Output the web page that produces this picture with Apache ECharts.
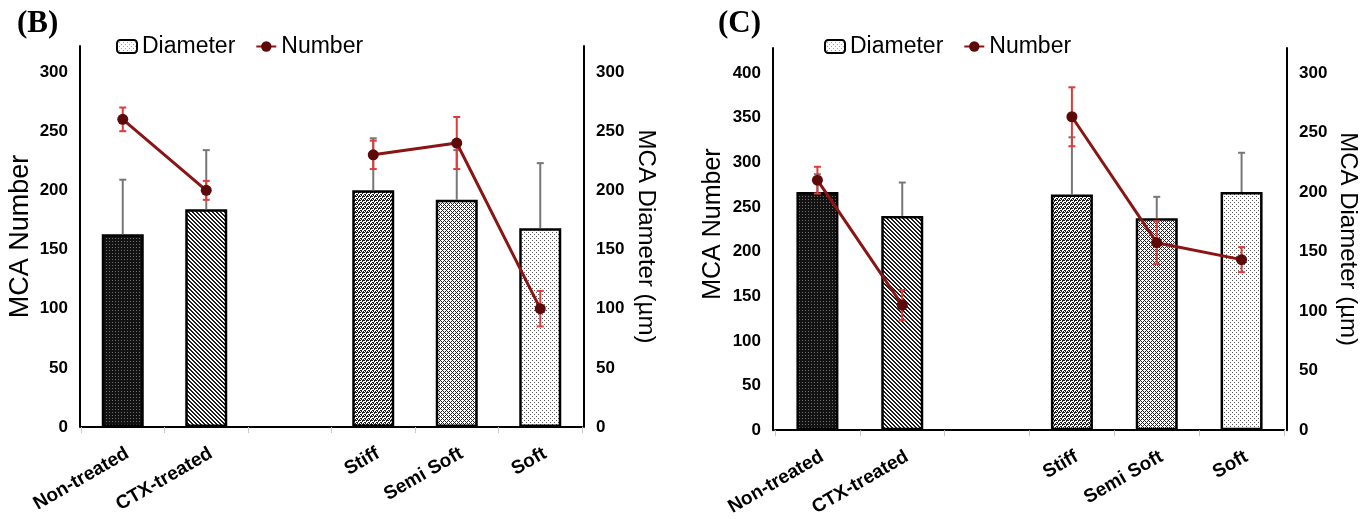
<!DOCTYPE html>
<html lang="en">

<head>
    <meta charset="UTF-8">
    <title>MCA Number / Diameter</title>
    <script src="https://cdn.jsdelivr.net/npm/echarts@6/dist/echarts.min.js"></script>
    <style>
        * {
            padding: 0;
            margin: 0;
        }

        html,
        body {
            width: 100%;
            height: 100%;
            background: #fff;
        }

        #main {
            width: 1367px;
            height: 519px;
        }
    </style>
</head>

<body>
    <div id="main"></div>
</body>

</html>
<script>
    // categories (empty slot between the two groups)
    const categories = ['Non-treated', 'CTX-treated', '', 'Stiff', 'Semi Soft', 'Soft'];

    // panel (B)
    const bDiameter = [163, 184, null, 200, 192, 168];
    const bDiameterErr = [46, 50, null, 44, 42, 55];
    const bNumber = [260, 200, null, 230, 240, 100];
    const bNumberErr = [10, 8, null, 12, 22, 15];

    // panel (C)
    const cDiameter = [200, 180, null, 198, 178, 200];
    const cDiameterErr = [15, 28, null, 48, 18, 33];
    const cNumber = [280, 140, null, 351, 210, 191];
    const cNumberErr = [15, 17, null, 33, 24, 14];

    // tick labels
    const bLeftTicks = [0, 50, 100, 150, 200, 250, 300];
    const bRightTicks = [0, 50, 100, 150, 200, 250, 300];
    const cLeftTicks = [0, 50, 100, 150, 200, 250, 300, 350, 400];
    const cRightTicks = [0, 50, 100, 150, 200, 250, 300];

    const FONT = 'Liberation Sans';

    // small pixel patterns like the excel fills
    function makePattern(rows, bg, fg) {
        const c = document.createElement('canvas');
        c.width = rows[0].length;
        c.height = rows.length;
        const ctx = c.getContext('2d');
        ctx.fillStyle = bg;
        ctx.fillRect(0, 0, c.width, c.height);
        ctx.fillStyle = fg;
        for (let y = 0; y < rows.length; y++) {
            for (let x = 0; x < rows[y].length; x++) {
                if (rows[y][x] === 'X') ctx.fillRect(x, y, 1, 1);
            }
        }
        return { image: c, repeat: 'repeat' };
    }

    const patterns = [
        makePattern(['...', '.X.', '...'], '#121212', '#6e6e6e'),
        makePattern(['XX..', '.XX.', '..XX', 'X..X'], '#ffffff', '#1e1e1e'),
        null,
        makePattern(['X.XX', '..X.', 'XX..', '.X.X'], '#ffffff', '#1e1e1e'),
        makePattern(['X...X.', '.X.X..', '..X...', '.X.X..', 'X...X.', '.....X'].map(r => r), '#ffffff', '#222222'),
        makePattern(['X...', '....', '..X.', '....'], '#ffffff', '#555555')
    ];
    // semi soft: diagonal cross tile
    patterns[4] = (function () {
        const rows = [];
        for (let y = 0; y < 4; y++) {
            let r = '';
            for (let x = 0; x < 4; x++) r += ((x + y) % 4 === 0 || (x - y + 4) % 4 === 0) ? 'X' : '.';
            rows.push(r);
        }
        return makePattern(rows, '#ffffff', '#222222');
    })();
    const legendPattern = makePattern(['X...', '....', '..X.', '....'], '#ffffff', '#8ea4d8');

    function barData(values) {
        return values.map((v, i) => v == null ? '-' : { value: v, itemStyle: { color: patterns[i] } });
    }

    function lineData(values) {
        return values.map(v => v == null ? '-' : v);
    }

    function errData(values, errs) {
        const out = [];
        values.forEach((v, i) => {
            if (v != null) out.push([i, v, errs[i]]);
        });
        return out;
    }

    function errRender(color, upOnly) {
        return function (params, api) {
            const x = api.value(0);
            const v = api.value(1);
            const e = api.value(2);
            const top = api.coord([x, v + e]);
            const bot = api.coord([x, upOnly ? v : v - e]);
            const half = 3.5;
            const style = { stroke: color, lineWidth: 2 };
            const children = [
                { type: 'line', shape: { x1: top[0], y1: top[1], x2: bot[0], y2: bot[1] }, style: style },
                { type: 'line', shape: { x1: top[0] - half, y1: top[1], x2: top[0] + half, y2: top[1] }, style: style }
            ];
            if (!upOnly) {
                children.push({ type: 'line', shape: { x1: bot[0] - half, y1: bot[1], x2: bot[0] + half, y2: bot[1] }, style: style });
            }
            return { type: 'group', children: children };
        };
    }

    function xAxisCfg(gridIndex) {
        return {
            type: 'category',
            gridIndex: gridIndex,
            data: categories,
            axisLine: { lineStyle: { color: '#000', width: 2 } },
            axisTick: { show: true, length: 6, lineStyle: { color: '#c8c8c8', width: 1 } },
            axisLabel: {
                interval: 0,
                rotate: 30,
                margin: 17,
                align: 'right',
                verticalAlign: 'top',
                fontFamily: FONT,
                fontWeight: 'bold',
                fontSize: 19,
                color: '#000'
            }
        };
    }

    function yAxisCfg(gridIndex, max, pos, name, nameGap, offset, nameSize, ticks, namePad) {
        return {
            type: 'value',
            gridIndex: gridIndex,
            position: pos,
            min: 0,
            max: max,
            interval: 50,
            offset: offset,
            name: name,
            nameLocation: 'middle',
            nameGap: nameGap,
            nameRotate: pos === 'left' ? 90 : -90,
            nameTextStyle: { fontFamily: FONT, fontSize: nameSize, color: '#000', padding: namePad || 0 },
            axisLine: { show: true, lineStyle: { color: '#000', width: 2 } },
            axisTick: { show: false },
            splitLine: { show: false },
            axisLabel: {
                margin: 12,
                fontFamily: FONT,
                fontWeight: 'bold',
                fontSize: 17,
                color: '#000',
                formatter: v => ticks.includes(v) ? String(v) : ''
            }
        };
    }

    function panelSeries(xi, yLeft, yRight, diam, diamErr, num, numErr) {
        return [
            {
                name: 'Diameter',
                type: 'bar',
                xAxisIndex: xi,
                yAxisIndex: yRight,
                barWidth: 42,
                itemStyle: { color: legendPattern, borderColor: '#000', borderWidth: 2.5 },
                data: barData(diam),
                z: 2
            },
            {
                type: 'custom',
                xAxisIndex: xi,
                yAxisIndex: yRight,
                renderItem: errRender('#777777', true),
                data: errData(diam, diamErr),
                z: 3
            },
            {
                type: 'custom',
                xAxisIndex: xi,
                yAxisIndex: yLeft,
                renderItem: errRender('#e03a3a', false),
                data: errData(num, numErr),
                z: 4
            },
            {
                name: 'Number',
                type: 'line',
                xAxisIndex: xi,
                yAxisIndex: yLeft,
                data: lineData(num),
                connectNulls: false,
                symbol: 'circle',
                symbolSize: 11,
                lineStyle: { color: '#8b1515', width: 3 },
                itemStyle: { color: '#5c0a0a' },
                z: 5
            }
        ];
    }

    const myChart = echarts.init(document.getElementById('main'));

    const option = {
        animation: false,
        backgroundColor: '#fff',
        title: [
            { text: '(B)', left: 12, top: 3, textStyle: { fontFamily: 'Liberation Serif', fontWeight: 'bold', fontSize: 31, color: '#000' } },
            { text: '(C)', left: 713, top: 3, textStyle: { fontFamily: 'Liberation Serif', fontWeight: 'bold', fontSize: 31, color: '#000' } }
        ],
        legend: [
            {
                left: 111, top: 30, itemWidth: 20, itemHeight: 13, itemGap: 20,
                data: ['Diameter', 'Number'],
                textStyle: { fontFamily: FONT, fontSize: 23, color: '#000' }
            },
            {
                left: 819, top: 30, itemWidth: 20, itemHeight: 13, itemGap: 20,
                data: ['Diameter', 'Number'],
                textStyle: { fontFamily: FONT, fontSize: 23, color: '#000' }
            }
        ],
        grid: [
            { left: 81, top: 46, width: 501, height: 381 },
            { left: 775, top: 48, width: 509, height: 387.5 }
        ],
        xAxis: [xAxisCfg(0), xAxisCfg(1)],
        yAxis: [
            yAxisCfg(0, 322, 'left', 'MCA Number', 46, 1, 27, bLeftTicks),
            yAxisCfg(0, 322, 'right', 'MCA Diameter (µm)', 50, 2, 24, bRightTicks),
            yAxisCfg(1, 428, 'left', 'MCA Number', 47, 2, 25, cLeftTicks, [0, 0, 0, 30]),
            yAxisCfg(1, 321, 'right', 'MCA Diameter (µm)', 49, 3, 24, cRightTicks)
        ],
        series: [].concat(
            panelSeries(0, 0, 1, bDiameter, bDiameterErr, bNumber, bNumberErr),
            panelSeries(1, 2, 3, cDiameter, cDiameterErr, cNumber, cNumberErr)
        )
    };

    myChart.setOption(option);
</script>
